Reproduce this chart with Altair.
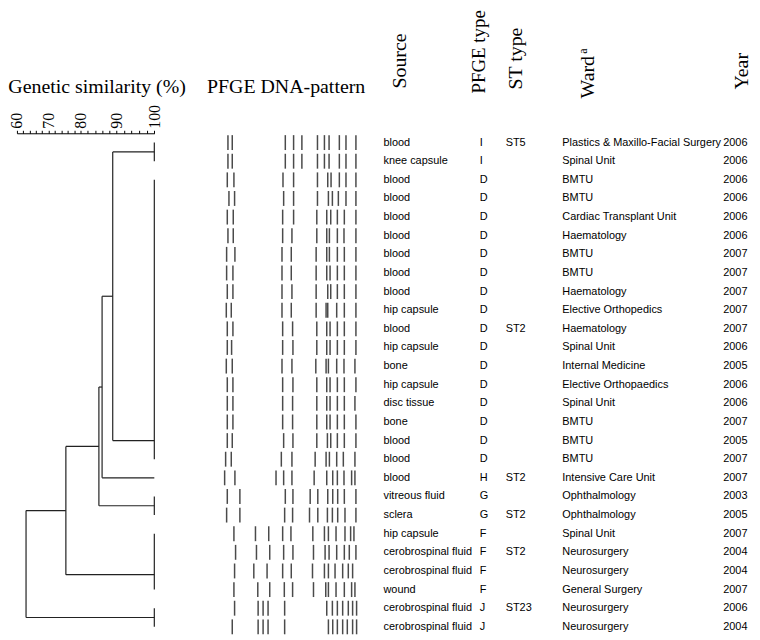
import altair as alt
import pandas as pd

# ---------------- table data ----------------
row_source = ["blood", "knee capsule", "blood", "blood", "blood", "blood", "blood", "blood",
              "blood", "hip capsule", "blood", "hip capsule", "bone", "hip capsule", "disc tissue",
              "bone", "blood", "blood", "blood", "vitreous fluid", "sclera", "hip capsule",
              "cerobrospinal fluid", "cerobrospinal fluid", "wound", "cerobrospinal fluid",
              "cerobrospinal fluid"]
row_pfge = ["I", "I", "D", "D", "D", "D", "D", "D", "D", "D", "D", "D", "D", "D", "D", "D", "D",
            "D", "H", "G", "G", "F", "F", "F", "F", "J", "J"]
row_st = ["ST5", "", "", "", "", "", "", "", "", "", "ST2", "", "", "", "", "", "", "", "ST2",
          "", "ST2", "", "ST2", "", "", "ST23", ""]
row_ward = ["Plastics & Maxillo-Facial Surgery", "Spinal Unit", "BMTU", "BMTU",
            "Cardiac Transplant Unit", "Haematology", "BMTU", "BMTU", "Haematology",
            "Elective Orthopedics", "Haematology", "Spinal Unit", "Internal Medicine",
            "Elective Orthopaedics", "Spinal Unit", "BMTU", "BMTU", "BMTU",
            "Intensive Care Unit", "Ophthalmology", "Ophthalmology", "Spinal Unit",
            "Neurosurgery", "Neurosurgery", "General Surgery", "Neurosurgery", "Neurosurgery"]
row_year = ["2006", "2006", "2006", "2006", "2006", "2006", "2007", "2007", "2007", "2007",
            "2007", "2006", "2005", "2006", "2006", "2007", "2005", "2007", "2007", "2003",
            "2005", "2007", "2004", "2004", "2007", "2006", "2004"]

# ---------------- dendrogram data ----------------
group_first = [0, 2, 18, 19, 21, 25]
group_last = [1, 17, 18, 20, 24, 26]
group_anchor = [0.5, 16.0, 18.0, 19.5, 23.2, 25.5]
merge_left = ["g0", "m0", "m1", "m2", "m3"]
merge_right = ["g1", "g2", "g3", "g4", "g5"]
merge_similarity = [89.0, 86.0, 85.1, 75.4, 62.9]

scale_ticks = [60, 70, 80, 90, 100]

# ---------------- PFGE band positions (gel units) ----------------
band_rows = [
    [42, 55, 215, 240, 265, 312, 333, 347, 378, 398, 428],
    [42, 55, 215, 240, 265, 312, 333, 347, 378, 398, 428],
    [40, 60, 208, 240, 312, 343, 353, 378, 398, 428],
    [45, 62, 210, 240, 312, 345, 357, 375, 398, 428],
    [40, 58, 207, 240, 310, 340, 352, 372, 393, 428],
    [42, 58, 207, 235, 310, 340, 348, 372, 392, 428],
    [38, 63, 205, 233, 308, 340, 348, 372, 393, 428],
    [38, 57, 205, 233, 308, 340, 350, 372, 393, 428],
    [40, 57, 205, 235, 308, 343, 352, 372, 393, 428],
    [37, 52, 205, 233, 308, 338, 343, 370, 393, 428],
    [40, 57, 207, 237, 310, 340, 350, 372, 393, 428],
    [40, 53, 207, 238, 310, 340, 350, 372, 393, 428],
    [37, 55, 205, 235, 307, 338, 345, 370, 392, 425],
    [40, 57, 207, 238, 310, 340, 350, 372, 393, 428],
    [40, 57, 207, 237, 310, 340, 350, 372, 393, 425],
    [40, 57, 207, 237, 310, 340, 350, 372, 393, 428],
    [40, 55, 210, 238, 310, 342, 352, 372, 393, 428],
    [35, 52, 203, 235, 305, 338, 348, 370, 390, 425],
    [32, 63, 187, 210, 235, 302, 340, 358, 372, 392, 415, 425],
    [40, 78, 215, 238, 290, 313, 343, 358, 373, 393, 428],
    [38, 78, 213, 237, 288, 313, 342, 357, 373, 395, 428],
    [60, 125, 165, 207, 232, 298, 333, 345, 368, 395, 412, 422],
    [65, 128, 168, 210, 238, 300, 335, 347, 370, 393, 408, 428],
    [62, 120, 160, 207, 233, 297, 333, 345, 365, 388, 405, 418],
    [60, 132, 168, 212, 237, 300, 337, 345, 368, 393, 415, 425],
    [62, 133, 148, 163, 213, 340, 357, 372, 388, 405, 418, 430],
    [55, 133, 148, 163, 213, 345, 358, 372, 388, 402, 418, 430],
]

N = len(row_source)
H = 18.75 * N
yscale = alt.Scale(domain=[-0.5, N - 0.5], reverse=True, nice=False, zero=False)
SERIF = "Liberation Serif"
SANS = "Liberation Sans"

# ---------------- build dendrogram segments ----------------
nodes = {}
segs = []
for i, (f, l, a) in enumerate(zip(group_first, group_last, group_anchor)):
    nodes[f"g{i}"] = (100.0, a)
    if l > f:
        segs.append({"x": 100.0, "x2": 100.0, "y": f, "y2": l})
for j, (lft, rgt, s) in enumerate(zip(merge_left, merge_right, merge_similarity)):
    sl, al = nodes[lft]
    sr, ar = nodes[rgt]
    segs.append({"x": sl, "x2": s, "y": al, "y2": al})
    segs.append({"x": sr, "x2": s, "y": ar, "y2": ar})
    segs.append({"x": s, "x2": s, "y": al, "y2": ar})
    nodes[f"m{j}"] = (s, (al + ar) / 2)
seg_df = pd.DataFrame(segs)

xscale_d = alt.Scale(domain=scale_ticks, range=[0, 31.6, 64.3, 100, 138.3], zero=False, nice=False)

dend_lines = alt.Chart(seg_df).mark_rule(color="#222222", strokeWidth=1.2).encode(
    x=alt.X("x:Q", scale=xscale_d,
            axis=alt.Axis(orient="top", values=list(range(60, 101, 2)),
                          labelExpr="datum.value % 10 === 0 ? datum.value : ''",
                          labelAngle=270, labelAlign="left", labelBaseline="middle",
                          labelFont=SERIF, labelFontSize=16, labelColor="black",
                          labelOverlap=False, labelPadding=2, tickSize=3,
                          tickColor="black", domainColor="black", grid=False, title=None)),
    x2="x2:Q",
    y=alt.Y("y:Q", scale=yscale, axis=None),
    y2="y2:Q",
)
dend_title = alt.Chart(pd.DataFrame({"t": ["Genetic similarity (%)"]})).mark_text(
    align="left", baseline="alphabetic", font=SERIF, fontSize=20, color="black"
).encode(x=alt.value(-8.7), y=alt.value(-41), text="t:N")
dend = alt.layer(dend_lines, dend_title).properties(width=139, height=H)

# ---------------- gel ----------------
gel_df = pd.DataFrame([{"row": r, "pos": p} for r, lst in enumerate(band_rows) for p in lst])
gel_bands = alt.Chart(gel_df).transform_calculate(
    top="datum.row - 0.4", bot="datum.row + 0.4"
).mark_rule(color="#4a4a4a", strokeWidth=1.5).encode(
    x=alt.X("pos:Q", scale=alt.Scale(domain=[-178, 509], zero=False, nice=False), axis=None),
    y=alt.Y("top:Q", scale=yscale, axis=None),
    y2="bot:Q",
)
gel_title = alt.Chart(pd.DataFrame({"t": ["PFGE DNA-pattern"]})).mark_text(
    align="left", baseline="alphabetic", font=SERIF, fontSize=20, color="black"
).encode(x=alt.value(52.3), y=alt.value(-41), text="t:N")
gel = alt.layer(gel_bands, gel_title).properties(width=229.3, height=H)


# ---------------- table columns ----------------
def text_col(values, header, width, hx, hy, hsize=20, extra=None):
    df = pd.DataFrame({"row": list(range(N)), "txt": values})
    body = alt.Chart(df).mark_text(
        align="left", baseline="middle", font=SANS, fontSize=11, color="black"
    ).encode(x=alt.value(0), y=alt.Y("row:Q", scale=yscale, axis=None), text="txt:N")
    head = alt.Chart(pd.DataFrame({"h": [header]})).mark_text(
        angle=270, align="left", baseline="middle", font=SERIF, fontSize=hsize, color="black"
    ).encode(x=alt.value(hx), y=alt.value(hy), text="h:N")
    layers = [body, head]
    if extra is not None:
        layers.append(extra)
    return alt.layer(*layers).properties(width=width, height=H)


sup_a = alt.Chart(pd.DataFrame({"h": ["a"]})).mark_text(
    angle=270, align="left", baseline="middle", font=SERIF, fontSize=12, color="black"
).encode(x=alt.value(21), y=alt.value(-80), text="h:N")

col_source = text_col(row_source, "Source", 97, 17, -45)
col_pfge = text_col(row_pfge, "PFGE type", 26, -1, -40, hsize=19)
col_st = text_col(row_st, "ST type", 57, 10, -44)
col_ward = text_col(row_ward, "Ward", 162, 26, -35, extra=sup_a)
col_year = text_col(row_year, "Year", 26, 19, -44)

chart = alt.hconcat(
    dend, gel, col_source, col_pfge, col_st, col_ward, col_year, spacing=0, bounds="flush"
).properties(padding=0).configure_view(stroke=None)

chart.save("out.html", embed_options={"renderer": "svg", "actions": False})
